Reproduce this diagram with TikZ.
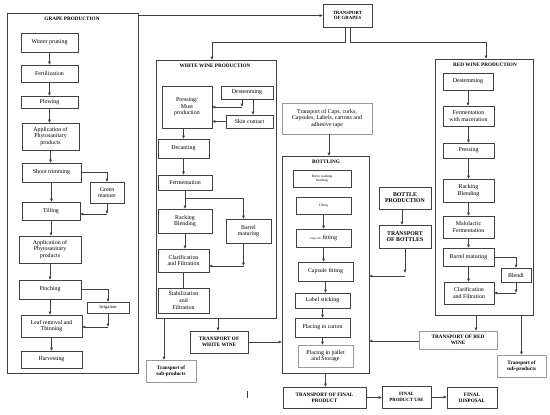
\documentclass[tikz,border=0pt]{standalone}
\usepackage{fontspec}
\setmainfont{Liberation Serif}
\usetikzlibrary{arrows.meta,calc}
\definecolor{bd}{HTML}{404040}
\definecolor{lg}{HTML}{9A9A9A}
\tikzset{
 box/.style={draw=bd, line width=0.95pt, rectangle, inner sep=0.5pt, outer sep=0pt, align=center, font=\fontsize{5.9}{6.6}\selectfont},
 lbox/.style={box, draw=lg},
 cont/.style={box, line width=1pt},
 ttl/.style={font=\bfseries\fontsize{5.2}{6}\selectfont, inner sep=0pt, align=center},
 arr/.style={draw=bd, line width=0.8pt, -{Latex[length=3.3pt,width=3pt]}},
 ln/.style={draw=bd, line width=0.8pt},
}
\newcommand\mkbox[7][]{%
 \pgfmathsetmacro\cxx{(#3+#5)/2}\pgfmathsetmacro\cyy{(#4+#6)/2}%
 \pgfmathsetmacro\ww{#5-#3}\pgfmathsetmacro\hh{#6-#4}%
 \node[box,minimum width=\ww pt,minimum height=\hh pt,#1] (#2) at (\cxx,\cyy) {#7};}
\begin{document}
\begin{tikzpicture}[x=1pt,y=-1pt]
\useasboundingbox[fill=white] (0,0) rectangle (550,415);
% containers
\mkbox[cont]{gp}{7}{13}{138}{373}{}
\mkbox[cont]{wc}{156}{60}{276}{318}{}
\mkbox[cont]{rc}{435}{59}{533}{315}{}
\mkbox[cont]{bot}{282}{156}{369}{373}{}
\node[ttl] (gpt) at (72,19) {GRAPE PRODUCTION};
\node[ttl] (wct) at (215,66) {WHITE WINE PRODUCTION};
\node[ttl] (rct) at (485,65) {RED WINE PRODUCTION};
\node[ttl] (bott) at (326,162) {BOTTLING};
% grape production
\mkbox{wp}{21}{33}{78}{52}{Winter pruning}
\mkbox{fert}{21}{65}{78}{82}{Fertilization}
\mkbox{plow}{21}{96}{78}{108}{Plowing}
\mkbox{aps}{22}{123}{79}{150}{Application of\\Phytosanitary\\products}
\mkbox{st}{22}{163}{81}{182}{Shoot trimming}
\mkbox{gm}{90}{182}{124}{203}{Green\\manure}
\mkbox{till}{22}{202}{80}{220}{Tilling}
\mkbox{apt}{19}{236}{81}{263}{Application of\\Phytosanitary\\products}
\mkbox{pin}{19}{280}{81}{299}{Pinching}
\mkbox[font=\fontsize{4.6}{5}\selectfont]{irr}{87}{302}{129}{313}{Irrigation}
\mkbox{lr}{21}{315}{82}{337}{Leaf removal and\\Thinning}
\mkbox{harv}{21}{351}{82}{368}{Harvesting}
\draw[arr] (wp.south) -- (wp.south |- fert.north);
\draw[arr] (fert.south) -- (fert.south |- plow.north);
\draw[arr] (plow.south) -- (plow.south |- aps.north);
\draw[arr] (aps.south) -- (aps.south |- st.north);
\draw[arr] (st.south) -- (st.south |- till.north);
\draw[arr] (st.east) -| (gm.north);
\coordinate (g1) at ([yshift=-11pt]gm.south);
\draw[arr] (gm.south) -- (g1);
\draw[arr] (g1) -- (g1 -| till.east);
\draw[arr] (till.south) -- (till.south |- apt.north);
\draw[arr] (apt.south) -- (apt.south |- pin.north);
\draw[arr] (pin.south) -- (pin.south |- lr.north);
\draw[arr] (pin.east) -| (irr.north);
\coordinate (g2) at ([yshift=-14pt]irr.south);
\draw[arr] (irr.south) -- (g2);
\draw[arr] (g2) -- (g2 -| lr.east);
\draw[arr] (lr.south) -- (lr.south |- harv.north);
% transport of grapes
\mkbox[font=\bfseries\fontsize{4.8}{5.3}\selectfont]{tog}{323}{4}{372}{27}{TRANSPORT\\OF GRAPES}
\draw[arr] (gp.north east |- tog.west) -- (tog.west);
\draw[arr] ([xshift=-2.5pt]tog.south) -- ++(0,15) -| ([xshift=-4pt]wc.north);
\draw[arr] ([xshift=2.5pt]tog.south) -- ++(0,15) -| ([xshift=2pt]rc.north);
% white wine
\mkbox{pm}{162}{86}{212}{128}{Pressing/\\Must\\production}
\mkbox{dst}{221}{86}{273}{99}{Destemming}
\mkbox{sk}{226}{115}{273}{128}{Skin contact}
\coordinate (w1) at ([xshift=-5pt,yshift=-8pt]dst.south);
\draw[arr] ([xshift=-5pt]dst.south) -- (w1);
\draw[arr] (w1) -- (w1 -| pm.east);
\draw[arr] ([xshift=6pt]dst.south) -- ([xshift=6pt]dst.south |- sk.north);
\draw[arr] (sk.west) -- (sk.west -| pm.east);
\mkbox{dec}{158}{139}{209}{158}{Decanting}
\draw[arr] (pm.south -| dec.north) -- (dec.north);
\mkbox{fe}{158}{175}{212}{190}{Fermentation}
\draw[arr] (dec.south) -- (dec.south |- fe.north);
\mkbox{rb}{158}{209}{212}{233}{Racking\\Blending}
\mkbox{bm}{226}{219}{271}{243}{Barrel\\maturing}
\draw[arr] (fe.south) -- (fe.south |- rb.north);
\draw[arr] ([yshift=-8pt]fe.south) -| ([xshift=-5pt]bm.north);
\mkbox{cf}{158}{249}{209}{272}{Clarification\\and Filtration}
\draw[arr] (rb.south) -- (rb.south |- cf.north);
\coordinate (w2) at ([xshift=-5pt,yshift=-23pt]bm.south);
\draw[arr] ([xshift=-5pt]bm.south) -- (w2);
\draw[arr] (w2) -- (w2 -| cf.east);
\mkbox{sf}{158}{288}{209}{313}{Stabilization\\and\\Filtration}
\draw[ln] (cf.south) -- (cf.south |- sf.north);
\mkbox[font=\bfseries\fontsize{5.2}{5.8}\selectfont]{tww}{190}{331}{248}{353}{TRANSPORT OF\\WHITE WINE}
\mkbox[lbox,font=\bfseries\fontsize{5.2}{6.2}\selectfont]{tsl}{146}{360}{196}{382}{Transport of\\sub-products}
\draw[arr] ([xshift=-1pt]wc.south -| tww.north) -- ([xshift=-1pt]tww.north);
\draw[arr] ([xshift=-7pt]wc.south -| tsl.north) -- ([xshift=-7pt]tsl.north);
\draw[arr] (tww.east) -- (tww.east -| bot.west);
\draw[ln] (247,391) -- (247,398);
% caps and bottling
\mkbox[lbox]{caps}{282}{103}{372}{134}{Transport of Caps, corks,\\Capsules, Labels, cartons and\\adhesive tape}
\draw[arr] ([xshift=2pt]caps.south) -- ([xshift=2pt]caps.south |- bot.north);
\mkbox[font=\fontsize{3.4}{3.9}\selectfont]{bw}{293}{170}{351}{187}{Bottle washing\\Washing}
\mkbox[font=\fontsize{3.4}{3.9}\selectfont]{fill}{296}{197}{351}{214}{Filling}
\mkbox{cc}{296}{229}{351}{247}{{\fontsize{3}{3}\selectfont Cap/cork} fitting}
\mkbox{capf}{298}{262}{353}{281}{Capsule fitting}
\mkbox{ls}{295}{293}{350}{308}{Label sticking}
\mkbox{pc}{295}{318}{350}{337}{Placing in carton}
\mkbox[lbox]{pp}{298}{345}{353}{367}{Placing in pallet\\and Storage}
\draw[arr] (fill.south) -- (fill.south |- cc.north);
\draw[arr] (cc.south) -- (cc.south |- capf.north);
\draw[arr] (capf.south) -- (capf.south |- ls.north);
\draw[arr] (ls.south) -- (ls.south |- pc.north);
\draw[arr] (pc.south) -- (pc.south |- pp.north);
% bottles
\mkbox[font=\bfseries\fontsize{5.8}{6}\selectfont]{bp}{379}{187}{431}{209}{BOTTLE\\PRODUCTION}
\mkbox[font=\bfseries\fontsize{5.8}{6}\selectfont]{tob}{379}{225}{431}{248}{TRANSPORT\\OF BOTTLES}
\draw[arr] ([xshift=-3pt]bp.south) -- ([xshift=-3pt]bp.south |- tob.north);
\coordinate (b1) at ([yshift=-25pt]tob.south);
\draw[arr] (tob.south) -- (b1);
\draw[arr] ([yshift=-3pt]b1) -- ([yshift=-3pt]b1 -| bot.east);
% final
\mkbox[font=\bfseries\fontsize{5.2}{5.8}\selectfont]{tfp}{283}{387}{366}{408}{TRANSPORT OF FINAL\\PRODUCT}
\mkbox[font=\bfseries\fontsize{4.8}{5.4}\selectfont]{fpu}{382}{386}{431}{408}{FINAL\\PRODUCT USE}
\mkbox[font=\bfseries\fontsize{5.2}{5.8}\selectfont]{fd}{447}{387}{497}{408}{FINAL\\DISPOSAL}
\draw[arr] (bot.south) -- (bot.south |- tfp.north);
\draw[arr] (tfp.east) -- (tfp.east -| fpu.west);
\draw[arr] (fpu.east) -- (fpu.east -| fd.west);
% red wine
\mkbox{rd}{443}{73}{493}{90}{Destemming}
\mkbox{rfm}{443}{106}{494}{126}{Fermentation\\with maceration}
\mkbox{rp}{443}{143}{494}{158}{Pressing}
\mkbox{rrb}{443}{179}{494}{202}{Racking\\Blending}
\mkbox{rml}{443}{216}{494}{238}{Malolactic\\Fermentation}
\mkbox{rbm}{443}{248}{494}{266}{Barrel maturing}
\mkbox{rbl}{501}{268}{531}{282}{Blendi}
\mkbox{rcf}{444}{282}{494}{304}{Clarification\\and Filtration}
\draw[arr] (rd.south) -- (rd.south |- rfm.north);
\draw[arr] (rfm.south) -- (rfm.south |- rp.north);
\draw[arr] (rp.south) -- (rp.south |- rrb.north);
\draw[arr] (rrb.south) -- (rrb.south |- rml.north);
\draw[arr] (rml.south) -- (rml.south |- rbm.north);
\draw[arr] (rbm.south) -- (rbm.south |- rcf.north);
\draw[arr] (rbm.east) -| (rbl.north);
\coordinate (r1) at ([yshift=-11pt]rbl.south);
\draw[arr] (rbl.south) -- (r1);
\draw[arr] (r1) -- (r1 -| rcf.east);
\mkbox[lbox,font=\bfseries\fontsize{5.2}{5.8}\selectfont]{trw}{419}{331}{497}{349}{TRANSPORT OF RED\\WINE}
\mkbox[lbox,font=\bfseries\fontsize{5.2}{6.2}\selectfont]{tsr}{497}{355}{546}{377}{Transport of\\sub-products}
\draw[arr] ([xshift=18pt]rc.south -| trw.north) -- ([xshift=18pt]trw.north);
\draw[arr] (rc.south -| tsr.north) -- (tsr.north);
\draw[arr] ([yshift=-1pt]trw.west) -- ([yshift=-1pt]trw.west -| bot.east);
\end{tikzpicture}
\end{document}
